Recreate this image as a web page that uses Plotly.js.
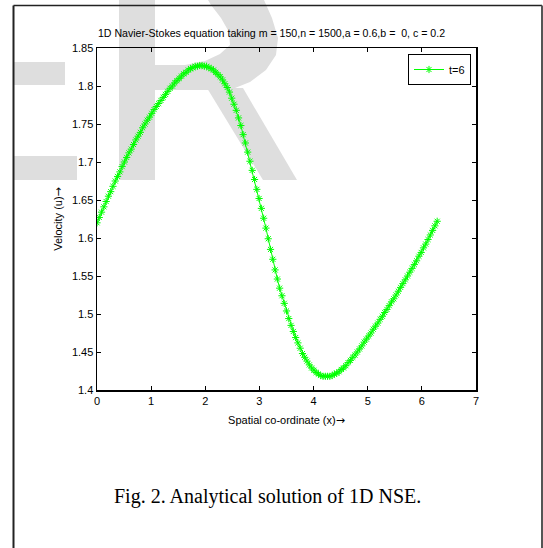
<!DOCTYPE html>
<html>
<head>
<meta charset="utf-8">
<script src="https://cdn.plot.ly/plotly-3.0.1.min.js"></script>
<style>
  html, body { margin: 0; padding: 0; background: #ffffff; }
  #chart { width: 543px; height: 548px; }
</style>
</head>
<body>
<div id="chart"></div>
<script>
// ---- data ----
const seriesName = "t=6";
const xValues = [
  0.000, 0.042, 0.084, 0.127, 0.169, 0.211, 0.253, 0.295, 0.337, 0.380,
  0.422, 0.464, 0.506, 0.548, 0.590, 0.633, 0.675, 0.717, 0.759, 0.801,
  0.843, 0.886, 0.928, 0.970, 1.012, 1.054, 1.096, 1.139, 1.181, 1.223,
  1.265, 1.307, 1.349, 1.392, 1.434, 1.476, 1.518, 1.560, 1.602, 1.645,
  1.687, 1.729, 1.771, 1.813, 1.855, 1.898, 1.940, 1.982, 2.024, 2.066,
  2.108, 2.151, 2.193, 2.235, 2.277, 2.319, 2.361, 2.404, 2.446, 2.488,
  2.530, 2.572, 2.614, 2.657, 2.699, 2.741, 2.783, 2.825, 2.867, 2.910,
  2.952, 2.994, 3.036, 3.078, 3.120, 3.163, 3.205, 3.247, 3.289, 3.331,
  3.373, 3.416, 3.458, 3.500, 3.542, 3.584, 3.626, 3.669, 3.711, 3.753,
  3.795, 3.837, 3.879, 3.922, 3.964, 4.006, 4.048, 4.090, 4.132, 4.175,
  4.217, 4.259, 4.301, 4.343, 4.385, 4.428, 4.470, 4.512, 4.554, 4.596,
  4.638, 4.681, 4.723, 4.765, 4.807, 4.849, 4.891, 4.934, 4.976, 5.018,
  5.060, 5.102, 5.144, 5.187, 5.229, 5.271, 5.313, 5.355, 5.397, 5.440,
  5.482, 5.524, 5.566, 5.608, 5.650, 5.693, 5.735, 5.777, 5.819, 5.861,
  5.903, 5.946, 5.988, 6.030, 6.072, 6.114, 6.156, 6.199, 6.241, 6.283
];
const velocityValues = [
  1.620, 1.627, 1.634, 1.641, 1.648, 1.655, 1.661, 1.668, 1.675, 1.681,
  1.687, 1.694, 1.700, 1.706, 1.712, 1.717, 1.723, 1.729, 1.734, 1.739,
  1.745, 1.750, 1.755, 1.759, 1.764, 1.769, 1.773, 1.777, 1.781, 1.785,
  1.789, 1.793, 1.797, 1.800, 1.804, 1.807, 1.810, 1.813, 1.816, 1.818,
  1.821, 1.823, 1.824, 1.826, 1.826, 1.827, 1.827, 1.826, 1.826, 1.824,
  1.823, 1.821, 1.818, 1.815, 1.812, 1.808, 1.803, 1.798, 1.792, 1.784,
  1.776, 1.768, 1.758, 1.748, 1.736, 1.725, 1.713, 1.701, 1.689, 1.677,
  1.664, 1.652, 1.639, 1.626, 1.613, 1.599, 1.585, 1.572, 1.558, 1.546,
  1.534, 1.524, 1.514, 1.504, 1.494, 1.485, 1.477, 1.469, 1.462, 1.455,
  1.448, 1.443, 1.438, 1.433, 1.429, 1.426, 1.423, 1.421, 1.419, 1.418,
  1.418, 1.418, 1.418, 1.419, 1.421, 1.422, 1.424, 1.427, 1.429, 1.432,
  1.436, 1.439, 1.443, 1.446, 1.450, 1.454, 1.458, 1.463, 1.467, 1.471,
  1.475, 1.480, 1.484, 1.488, 1.493, 1.497, 1.502, 1.506, 1.511, 1.516,
  1.520, 1.525, 1.530, 1.535, 1.540, 1.545, 1.550, 1.555, 1.560, 1.565,
  1.570, 1.576, 1.581, 1.587, 1.592, 1.598, 1.604, 1.610, 1.616, 1.622
];
const xTickValues = [0, 1, 2, 3, 4, 5, 6, 7];
const yTickValues = [1.4, 1.45, 1.5, 1.55, 1.6, 1.65, 1.7, 1.75, 1.8, 1.85];
const yTickLabels = ["1.4", "1.45", "1.5", "1.55", "1.6", "1.65", "1.7", "1.75", "1.8", "1.85"];

const arrow = "<span style='font-family:DejaVu Sans'>\u2192</span>";
const chartTitle = "1D Navier-Stokes equation taking m = 150,n = 1500,a = 0.6,b =  0, c = 0.2";
const xTitle = "Spatial co-ordinate (x)" + arrow;
const yTitle = "Velocity (u)" + arrow;
const caption = "Fig. 2. Analytical solution of 1D NSE.";

// ---- page geometry (decoration only) ----
const W = 543, H = 548;
const M = { l: 97, r: 67, t: 48, b: 158 };
const PW = W - M.l - M.r, PH = H - M.t - M.b;
const px2x = p => (p - M.l) / PW;
const px2y = p => (H - M.b - p) / PH;
function pathFrom(pts) {
  return "M" + pts.map(p => px2x(p[0]).toFixed(4) + "," + px2y(p[1]).toFixed(4)).join("L") + "Z";
}
function rectPx(x0, y0, x1, y1, color) {
  return { type: "rect", xref: "paper", yref: "paper", layer: "below",
    x0: px2x(x0), x1: px2x(x1), y0: px2y(y1), y1: px2y(y0),
    fillcolor: color, line: { width: 0 } };
}
function linePx(x0, y0, x1, y1, color, w) {
  return { type: "line", xref: "paper", yref: "paper", layer: "above",
    x0: px2x(x0), x1: px2x(x1), y0: px2y(y0), y1: px2y(y1),
    line: { color: color, width: w } };
}
const wm = "#dedede";
const shapes = [
  // faint watermark letters behind the plot
  rectPx(14, 62, 65, 85, wm),
  rectPx(14, 156, 77, 180, wm),
  rectPx(119, 0, 155, 180, wm),
  { type: "path", xref: "paper", yref: "paper", layer: "below", fillcolor: wm, line: { width: 0 },
    path: pathFrom([[155,65],[185,65],[205,61],[220,54],[230,45],[229,32],[221,18],[211,5],[208,0],
                    [264,0],[272,18],[278,38],[276,55],[266,70],[250,82],[230,90],[155,90]]) },
  { type: "path", xref: "paper", yref: "paper", layer: "below", fillcolor: wm, line: { width: 0 },
    path: pathFrom([[207,88],[243,88],[297,180],[263,180]]) },
  // page frame
  linePx(13.5, 5.5, 13.5, 560, "#222222", 2),
  linePx(13.5, 5.5, 542, 5.5, "#222222", 1.5),
  linePx(542, 5.5, 542, 560, "#555555", 2)
];

const trace = {
  type: "scatter",
  mode: "lines+markers",
  name: seriesName,
  x: xValues,
  y: velocityValues,
  line: { color: "#00ff00", width: 1 },
  marker: { symbol: "asterisk-open", size: 6, color: "#00ff00", line: { color: "#00ff00", width: 1 } }
};

const axisCommon = {
  showline: true, linecolor: "#000000", linewidth: 1.5, mirror: "ticks",
  ticks: "inside", ticklen: 4, tickwidth: 1, tickcolor: "#000000",
  showgrid: false, zeroline: false,
  tickfont: { family: "Liberation Sans, Arial, sans-serif", size: 11, color: "#000000" }
};

const layout = {
  width: W, height: H,
  margin: M,
  paper_bgcolor: "#ffffff",
  plot_bgcolor: "rgba(0,0,0,0)",
  font: { family: "Liberation Sans, Arial, sans-serif", size: 11, color: "#000000" },
  title: { text: chartTitle, font: { size: 10.6, color: "#000000" },
           x: 0.5, xref: "container", xanchor: "center",
           y: 1 - 33 / H, yref: "container", yanchor: "middle" },
  showlegend: true,
  legend: { x: px2x(471), y: px2y(54), xanchor: "right", yanchor: "top",
            bgcolor: "#ffffff", bordercolor: "#000000", borderwidth: 1,
            font: { size: 11, color: "#000000" } },
  xaxis: Object.assign({}, axisCommon, {
    range: [0, 7], tickmode: "array", tickvals: xTickValues,
    title: { text: xTitle, standoff: 10, font: { size: 11, color: "#000000" } }
  }),
  yaxis: Object.assign({}, axisCommon, {
    range: [1.4, 1.85], tickmode: "array", tickvals: yTickValues, ticktext: yTickLabels,
    title: { text: yTitle, standoff: 7, font: { size: 11, color: "#000000" } }
  }),
  shapes: shapes,
  annotations: [{
    text: caption, xref: "paper", yref: "paper",
    x: px2x(267), y: px2y(496), xanchor: "center", yanchor: "middle", showarrow: false,
    font: { family: "Liberation Serif, Times New Roman, serif", size: 20, color: "#000000" }
  }]
};

Plotly.newPlot("chart", [trace], layout, { displayModeBar: false, staticPlot: true });
</script>
</body>
</html>
